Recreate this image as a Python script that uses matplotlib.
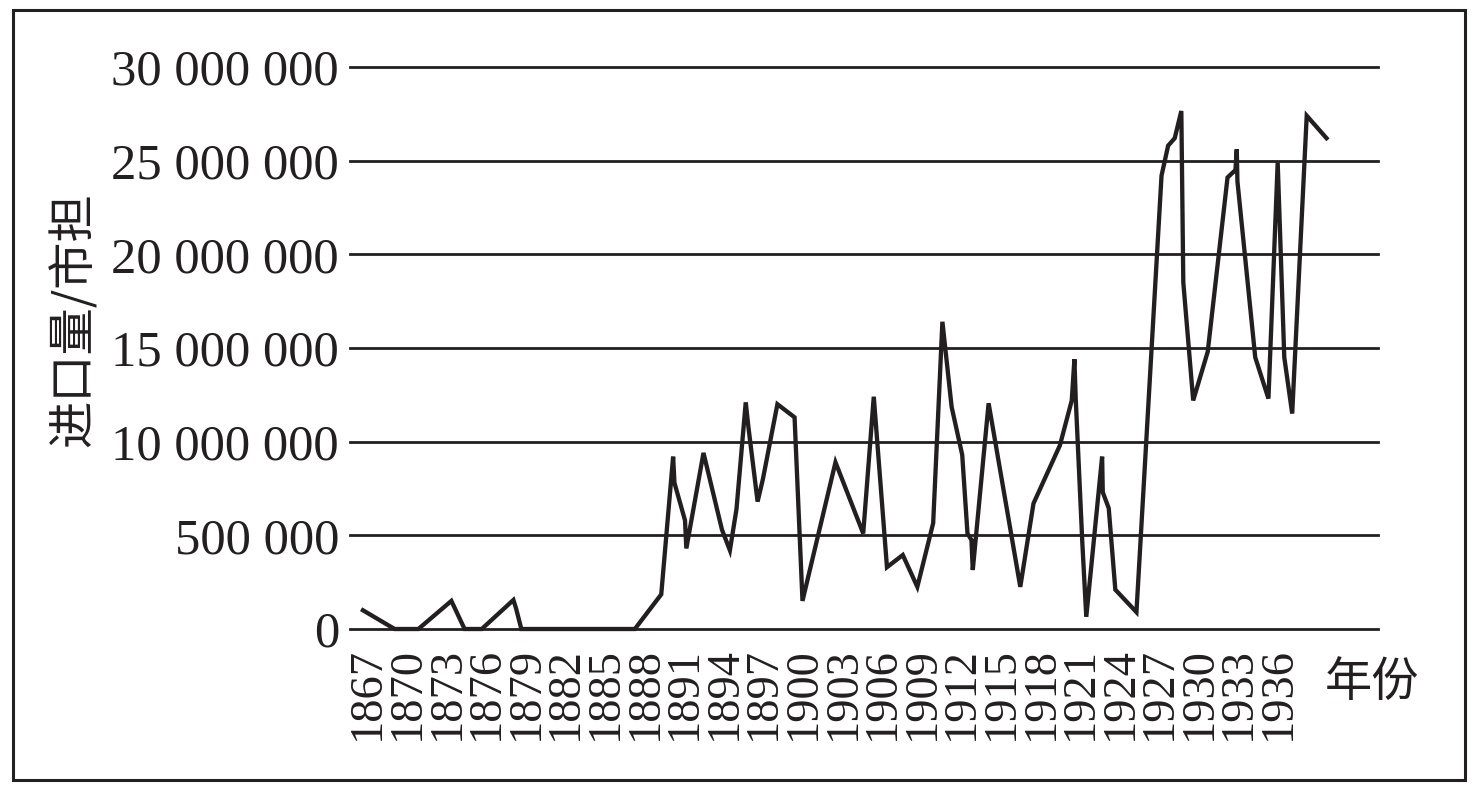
import matplotlib
matplotlib.use("Agg")
import matplotlib.pyplot as plt
from matplotlib.patches import Rectangle
from matplotlib.transforms import ScaledTranslation

# Data (x = position in years, y = import volume in 市担)
years = [1867.0, 1869.4, 1871.2, 1873.7, 1874.7, 1876.0, 1878.4, 1878.6, 1879.0,
         1887.6, 1889.6, 1890.5, 1890.6, 1891.4, 1891.5, 1892.8, 1894.2, 1894.8,
         1895.3, 1896.0, 1896.2, 1896.9, 1897.3, 1898.4, 1899.7, 1900.3, 1902.8,
         1904.9, 1905.7, 1906.7, 1907.9, 1909.0, 1910.2, 1910.9, 1911.6, 1912.4,
         1912.8, 1913.1, 1913.2, 1914.4, 1916.8, 1917.8, 1919.8, 1920.7, 1920.9,
         1921.0, 1921.5, 1921.8, 1923.0, 1923.05, 1923.5, 1924.0, 1925.6, 1927.5,
         1928.0, 1928.5, 1929.0, 1929.15, 1929.9, 1931.0, 1932.5, 1933.1, 1933.2,
         1933.25, 1934.6, 1935.6, 1936.3, 1936.8, 1937.4, 1938.5, 1940.0]
imports = [1000000, 0, 0, 1500000, 0, 0, 1550000, 1100000, 0,
           0, 1850000, 9200000, 7800000, 5800000, 4300000, 9400000, 5300000, 4200000,
           6400000, 12100000, 10800000, 6800000, 8000000, 12000000, 11300000, 1500000, 8900000,
           5100000, 12400000, 3300000, 3950000, 2250000, 5650000, 16400000, 11850000, 9300000,
           5100000, 4750000, 3150000, 12050000, 2250000, 6700000, 9800000, 12200000, 14400000,
           12300000, 4600000, 650000, 9200000, 7300000, 6450000, 2100000, 900000, 24200000,
           25800000, 26200000, 27650000, 18500000, 12200000, 14800000, 24100000, 24500000, 25600000,
           23900000, 14500000, 12300000, 24900000, 14500000, 11500000, 27400000, 26200000]

tick_years = list(range(1867, 1937, 3))
y_ticks = [0, 5000000, 10000000, 15000000, 20000000, 25000000, 30000000]
y_tick_labels = ["0", "500 000", "10 000 000", "15 000 000", "20 000 000",
                 "25 000 000", "30 000 000"]
y_label = "进口量/市担"
x_label = "年份"

W, H = 1478, 789
fig = plt.figure(figsize=(W / 100, H / 100), dpi=100)
ax = fig.add_axes([350 / W, 1 - 629 / H, (1378 - 350) / W, (629 - 67) / H])

serif = ["Liberation Serif", "DejaVu Serif"]
cjk = ["Noto Sans CJK SC", "DejaVu Sans"]

for yv in y_ticks:
    ax.axhline(yv, color="#231f20", lw=2.0, zorder=1, clip_on=False)

ax.plot(years, imports, color="#231f20", lw=3.1, solid_joinstyle="miter",
        zorder=3, clip_on=False)

ax.set_xlim(1866.02, 1943.9)
ax.set_ylim(0, 30000000)
ax.set_xticks(tick_years)
ax.set_xticklabels([str(t) for t in tick_years], rotation=90, family=serif,
                   fontsize=33.5, color="#231f20")
ax.set_yticks(y_ticks)
ax.set_yticklabels(y_tick_labels, family=serif, fontsize=36.5, color="#231f20")
ax.tick_params(axis="both", length=0)
ax.tick_params(axis="y", pad=8)
ax.tick_params(axis="x", pad=13)
for lbl in ax.get_xticklabels():
    lbl.set_transform(lbl.get_transform() + ScaledTranslation(5 / 100, 0, fig.dpi_scale_trans))
for s in ax.spines.values():
    s.set_visible(False)

fig.text(74 / W, 1 - 320 / H, y_label, rotation=90, ha="center", va="center",
         family=cjk, fontsize=34, color="#231f20")
fig.text(1372 / W, 1 - 683 / H, x_label, ha="center", va="center",
         family=cjk, fontsize=34, color="#231f20")

fig.patches.append(Rectangle((13 / W, 1 - 780 / H), (1465 - 13) / W, (780 - 10) / H,
                             transform=fig.transFigure, fill=False,
                             edgecolor="#231f20", lw=2.2))

fig.savefig("out.png", dpi=100)
